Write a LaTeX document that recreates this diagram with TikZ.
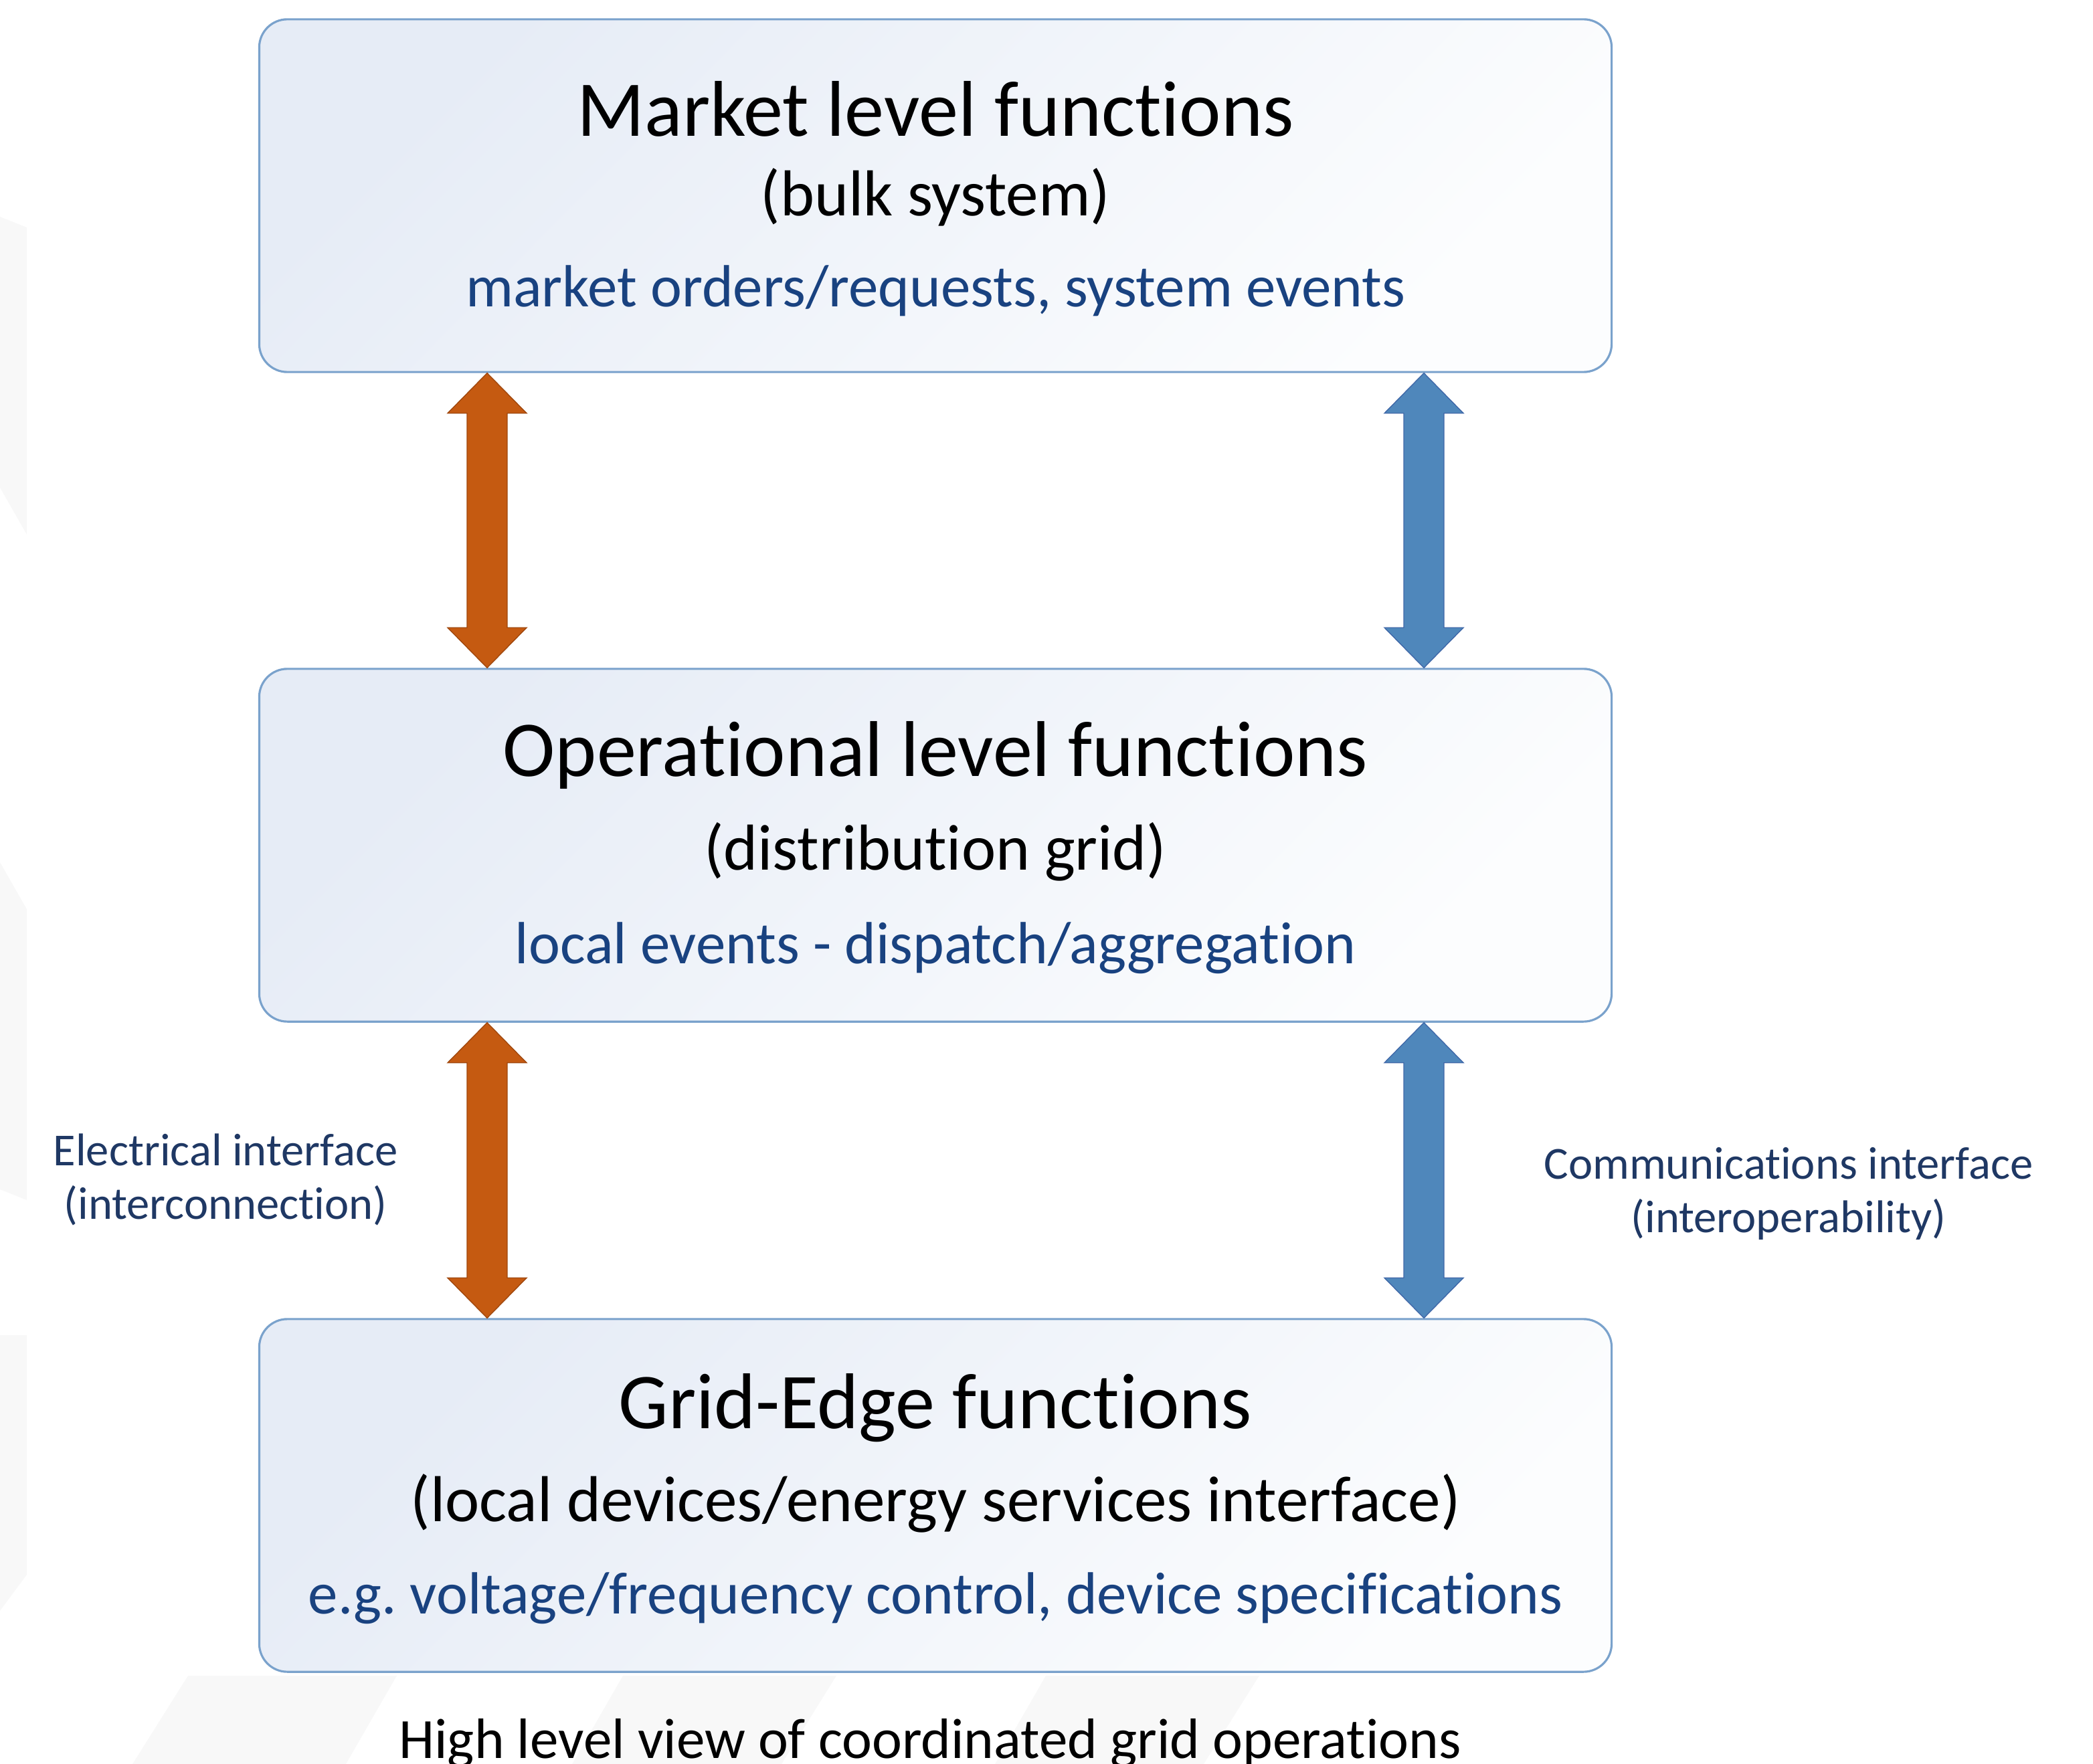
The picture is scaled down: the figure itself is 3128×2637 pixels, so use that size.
\documentclass[tikz,border=0pt]{standalone}
\usepackage{fontspec}
\setmainfont{Carlito}[Ligatures=NoCommon]
\usetikzlibrary{calc}

\definecolor{boxline}{RGB}{122,162,204}
\definecolor{boxtop}{RGB}{230,236,246}
\definecolor{boxbottom}{RGB}{252,253,254}
\definecolor{infoblue}{RGB}{25,66,128}
\definecolor{labelnavy}{RGB}{31,56,100}
\definecolor{elecfill}{RGB}{197,90,17}
\definecolor{elecline}{RGB}{160,72,14}
\definecolor{commfill}{RGB}{79,135,187}
\definecolor{commline}{RGB}{64,104,168}
\definecolor{watermark}{RGB}{248,248,248}

% block arrow with a head at both ends, from #2 (top) to #3 (bottom)
\newcommand{\dblarrow}[3]{%
  \draw[#1] (#2) -- ++(-59,60) -- ++(29,0) -- ($(#3)+(-30,-60)$) -- ++(-29,0)
    -- (#3) -- ++(59,-60) -- ++(-29,0) -- ($(#2)+(30,60)$) -- ++(29,0) -- cycle;}

\frenchspacing
\begin{document}
\begin{tikzpicture}[x=0.01cm, y=-0.01cm,
    funcbox/.style={draw=boxline, line width=0.9pt, rounded corners=0.42cm,
      minimum width=20.2cm, minimum height=5.27cm, inner sep=0,
      top color=boxtop, bottom color=boxbottom, shading angle=45},
    titletext/.style={anchor=base, inner sep=0, font=\fontsize{33.6}{40}\selectfont},
    subtext/.style={anchor=base, inner sep=0, font=\fontsize{27.6}{33}\selectfont},
    infotext/.style={anchor=base, inner sep=0, text=infoblue, font=\fontsize{25.3}{30}\selectfont},
    sidetext/.style={anchor=base, inner sep=0, text=labelnavy, font=\fontsize{19.5}{23}\selectfont},
    captext/.style={anchor=base, inner sep=0, font=\fontsize{24.2}{29}\selectfont},
    elecarrow/.style={fill=elecfill, draw=elecline, line width=0.4pt, line join=miter},
    commarrow/.style={fill=commfill, draw=commline, line width=0.4pt, line join=miter}]
  \useasboundingbox (0,0) rectangle (3128,2637);

  % faint background marks
  \fill[watermark] (0,324) -- (40,340) -- (40,799) -- (0,729) -- cycle;
  \fill[watermark] (0,1289) -- (40,1359) -- (40,1794) -- (0,1778) -- cycle;
  \fill[watermark] (0,1996) -- (40,1996) -- (40,2354) -- (0,2408) -- cycle;
  \fill[watermark] (281,2505) -- (593,2505) -- (517,2637) -- (198,2637) -- cycle;
  \fill[watermark] (931,2505) -- (1250,2505) -- (1168,2637) -- (855,2637) -- cycle;
  \fill[watermark] (1563,2505) -- (1882,2505) -- (1799,2637) -- (1487,2637) -- cycle;

  \node[funcbox] (market) at (1398,292.5) {};
  \node[funcbox] (oper) at (1398,1263.5) {};
  \node[funcbox] (edge) at (1398,2235.5) {};

  \node[titletext] (markett) at (1398,204) {Market level functions};
  \node[subtext] (markets) at (1398,323) {(bulk system)};
  \node[infotext] (marketi) at (1398,459) {market orders/requests, system events};

  \node[titletext] (opert) at (1398,1160) {Operational level functions};
  \node[subtext] (opers) at (1398,1300) {(distribution grid)};
  \node[infotext] (operi) at (1398,1440) {local events - dispatch/aggregation};

  \node[titletext] (edget) at (1398,2135) {Grid-Edge functions};
  \node[subtext] (edges) at (1398,2274) {(local devices/energy services interface)};
  \node[infotext] (edgei) at (1398,2412) {e.g. voltage/frequency control, device specifications};

  % interfaces
  \coordinate (elecx) at (728,0);
  \coordinate (commx) at (2128,0);
  \coordinate (e1) at (market.south -| elecx);
  \coordinate (e2) at (oper.north -| elecx);
  \coordinate (e3) at (oper.south -| elecx);
  \coordinate (e4) at (edge.north -| elecx);
  \coordinate (c1) at (market.south -| commx);
  \coordinate (c2) at (oper.north -| commx);
  \coordinate (c3) at (oper.south -| commx);
  \coordinate (c4) at (edge.north -| commx);
  \dblarrow{elecarrow}{e1}{e2}
  \dblarrow{elecarrow}{e3}{e4}
  \dblarrow{commarrow}{c1}{c2}
  \dblarrow{commarrow}{c3}{c4}

  \node[sidetext] (elec1) at (337,1742) {Electrical interface};
  \node[sidetext] (elec2) at (337,1822) {(interconnection)};
  \node[sidetext] (comm1) at (2673,1762) {Communications interface};
  \node[sidetext] (comm2) at (2673,1842) {(interoperability)};

  \node[captext] (caption) at (1390,2628) {High level view of coordinated grid operations};
\end{tikzpicture}
\end{document}
